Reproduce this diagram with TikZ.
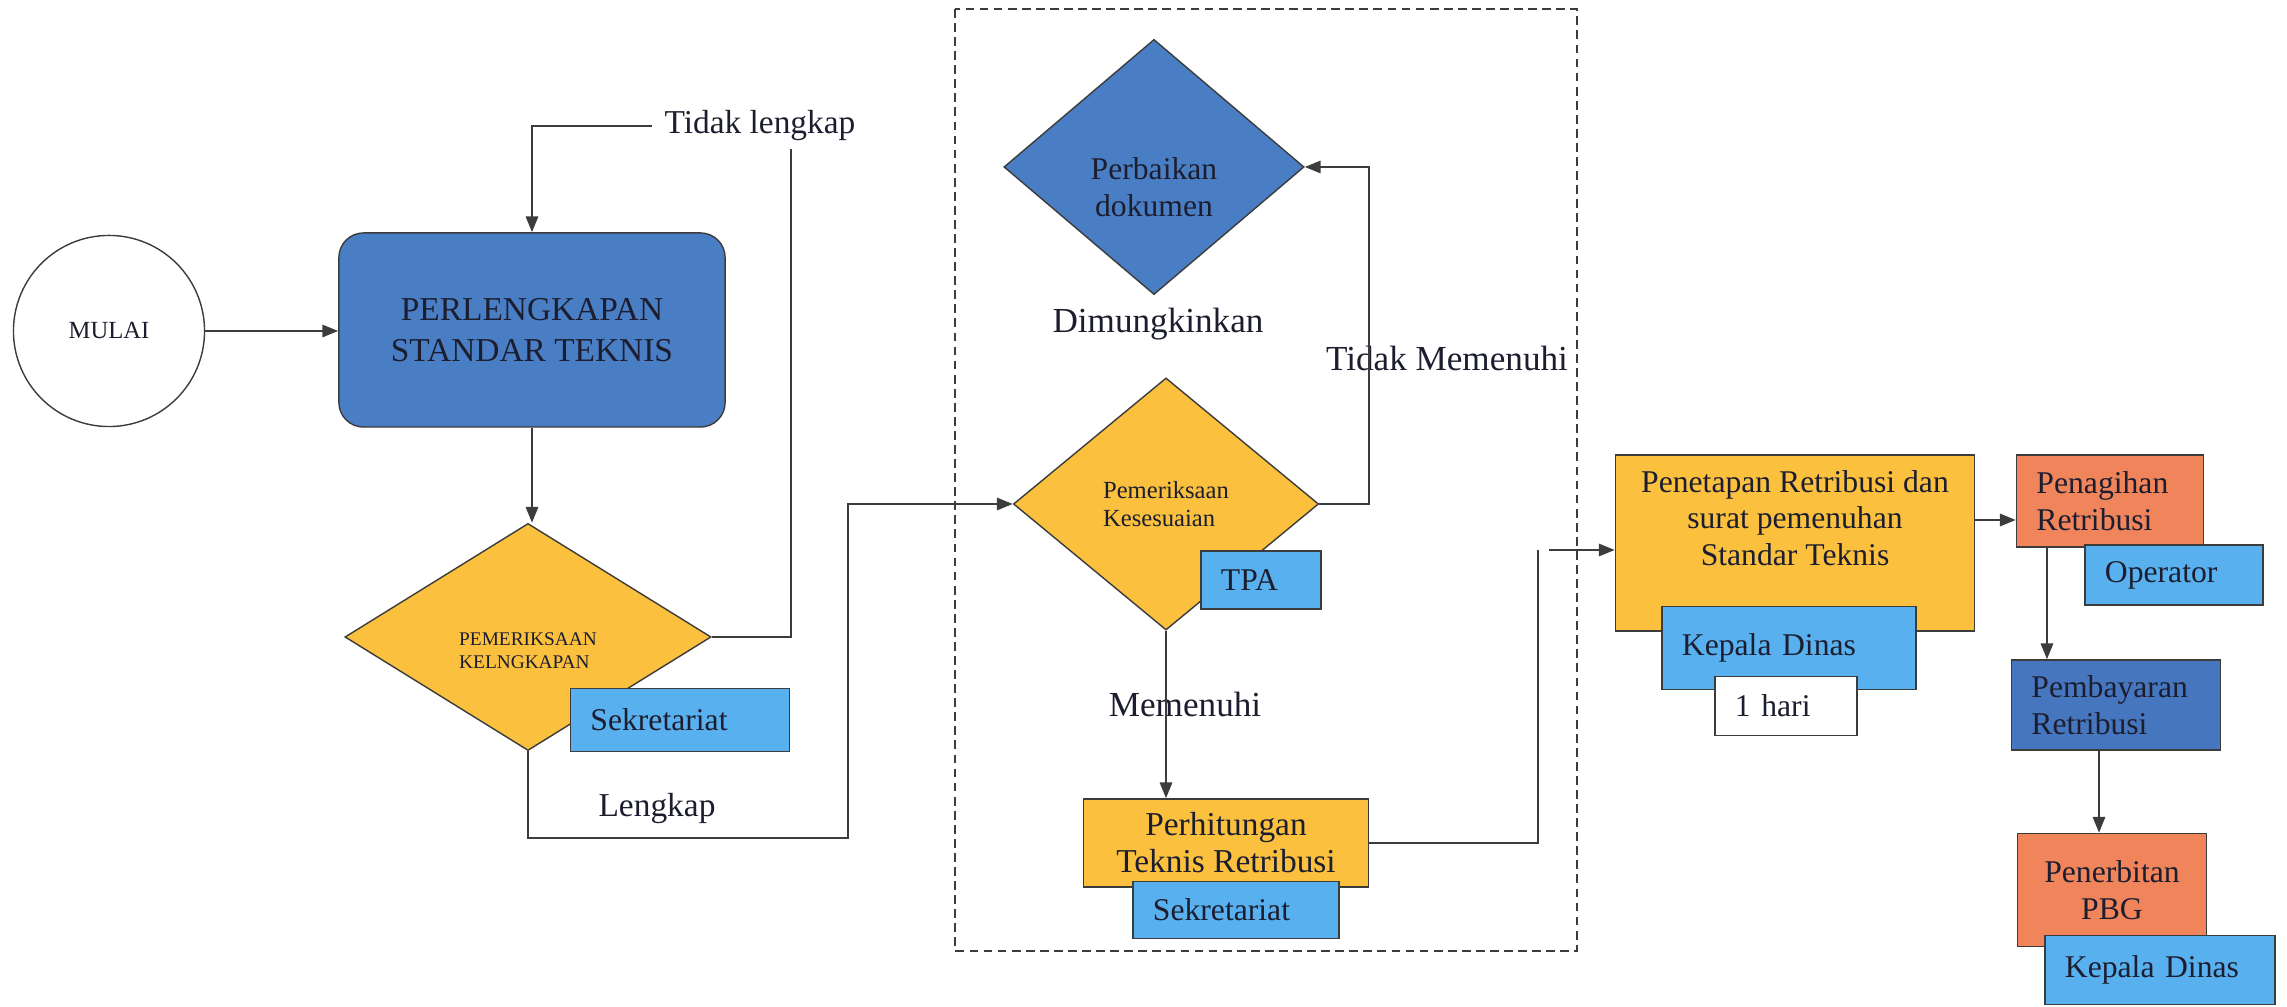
\documentclass[tikz,border=0pt]{standalone}
\usepackage{fontspec}
\setmainfont{Liberation Serif}
\usetikzlibrary{arrows.meta, shapes.geometric, positioning, calc}
\definecolor{pbgblue}{RGB}{74,126,196}
\definecolor{pbgdeep}{RGB}{70,118,190}
\definecolor{pbggold}{RGB}{250,192,62}
\definecolor{pbgsky}{RGB}{88,176,238}
\definecolor{pbgorange}{RGB}{240,132,90}
\definecolor{pbgline}{RGB}{60,60,60}
\definecolor{pbgtext}{RGB}{28,30,48}

\begin{document}
\begin{tikzpicture}[x=0.01cm, y=-0.01cm,
    every node/.style={text=pbgtext},
    proc/.style={draw=pbgline, fill=pbgblue, rounded corners=7pt, align=center,
                 font=\fontsize{9.5}{11.5}\selectfont},
    dec/.style={diamond, draw=pbgline, fill=pbggold, inner sep=0pt, align=left},
    task/.style={draw=pbgline, fill=pbggold, align=center, inner sep=0pt,
                 font=\fontsize{9}{10.5}\selectfont},
    tag/.style={draw=pbgline, fill=pbgsky, align=left, inner xsep=0.2cm, inner ysep=0pt,
                font=\fontsize{9}{10.5}\selectfont},
    note/.style={font=\fontsize{9.5}{11}\selectfont},
    arr/.style={-{Triangle[length=4.5pt,width=3.5pt]}, pbgline, line width=0.6pt},
    conn/.style={pbgline, line width=0.6pt}
  ]
    \useasboundingbox (0,0) rectangle (2287,1007);

    % verification area
    \draw[pbgline, line width=0.6pt, dash pattern=on 2.5pt off 1.5pt] (955,9) rectangle (1577,951);

    % left part
    \node[circle, draw=pbgline, fill=white, minimum size=1.91cm, inner sep=0pt,
          font=\fontsize{7}{8}\selectfont] (mulai) at (109,331) {MULAI};
    \node[proc, minimum width=3.86cm, minimum height=1.94cm] (perl) at (532,330) {PERLENGKAPAN\\STANDAR TEKNIS};
    \node[dec, minimum width=3.66cm, minimum height=2.27cm, text height=18pt,
          font=\fontsize{5.5}{6.5}\selectfont] (pk) at (528,637) {PEMERIKSAAN\\KELNGKAPAN};
    \node[tag, text width=1.79cm, minimum height=0.63cm] (sek1) at (680,720) {Sekretariat};

    % checking
    \node[dec, fill=pbgblue, align=center, minimum width=3cm, minimum height=2.55cm, text height=28pt,
          font=\fontsize{9}{10.5}\selectfont] (pd) at (1154,167) {Perbaikan\\dokumen};
    \node[dec, minimum width=3.05cm, minimum height=2.52cm, font=\fontsize{7}{8}\selectfont] (pks) at (1166,504) {Pemeriksaan\\Kesesuaian};
    \node[tag, text width=0.8cm, minimum height=0.58cm] (tpa) at (1261,580) {TPA};
    \node[task, minimum width=2.85cm, minimum height=0.88cm, font=\fontsize{9.5}{10.5}\selectfont] (perh) at (1226,843) {Perhitungan\\Teknis Retribusi};
    \node[tag, text width=1.66cm, minimum height=0.57cm] (sek2) at (1236,910) {Sekretariat};

    % right part
    \node[task, minimum width=3.59cm, minimum height=1.76cm, text depth=0.5cm] (penet) at (1795,543) {Penetapan Retribusi dan\\surat pemenuhan\\Standar Teknis};
    \node[tag, text width=2.14cm, minimum height=0.83cm] (kd1) at (1789,648) {Kepala Dinas};
    \node[tag, fill=white, text width=1.02cm, minimum height=0.59cm] (hari) at (1786,706) {1 hari};
    \node[tag, fill=pbgorange, text width=1.47cm, minimum height=0.92cm] (pnag) at (2110,501) {Penagihan\\Retribusi};
    \node[tag, text width=1.38cm, minimum height=0.6cm] (oper) at (2174,575) {Operator};
    \node[tag, fill=pbgdeep, text width=1.69cm, minimum height=0.9cm] (pbyr) at (2116,705) {Pembayaran\\Retribusi};
    \node[tag, fill=pbgorange, align=center, text width=1.49cm, minimum height=1.13cm] (pnbt) at (2112,890) {Penerbitan\\PBG};
    \node[tag, text width=1.9cm, minimum height=0.69cm] (kd2) at (2160,970) {Kepala Dinas};

    % labels
    \node[note] (tl) at (760,126) {Tidak lengkap};
    \node[note] (lk) at (657,809) {Lengkap};
    \node[note, font=\fontsize{10}{12}\selectfont] (dm) at (1158,324) {Dimungkinkan};
    \node[note, font=\fontsize{10}{12}\selectfont] (tm) at (1447,358) {Tidak Memenuhi};
    \node[note, font=\fontsize{10}{12}\selectfont] (mm) at (1185,704) {Memenuhi};

    \coordinate (tlend) at (791,149);
    \coordinate (lkc) at (848,838);
    \coordinate (tmc) at (1369,0);
    \coordinate (phc) at (1538,550);
    \coordinate (pnin) at (1549,550);
    \coordinate (pq) at ([yshift=-0.19cm]pnag.west);
    \coordinate (pa) at ([xshift=-0.63cm]pnag.south);
    \coordinate (pb) at ([xshift=-0.17cm]pbyr.south);

    % connectors
    \draw[arr] (mulai.east) -- (mulai.east -| perl.west);
    \draw[arr] (tl.west) -| (perl.north);
    \draw[arr] (perl.south) -- (perl.south |- pk.north);
    \draw[conn] (pk.east) -| (tlend);
    \draw[arr] (pk.south) |- (lkc) |- (pks.west);
    \draw[arr] (pks.east) -| (tmc |- pd.east) -- (pd.east);
    \draw[arr] (pks.south) -- (pks.south |- perh.north);
    \draw[conn] (perh.east) -| (phc);
    \draw[arr] (pnin) -- (pnin -| penet.west);
    \draw[arr] (penet.east |- pq) -- (pq);
    \draw[arr] (pa) -- (pa |- pbyr.north);
    \draw[arr] (pb) -- (pb |- pnbt.north);
\end{tikzpicture}
\end{document}
